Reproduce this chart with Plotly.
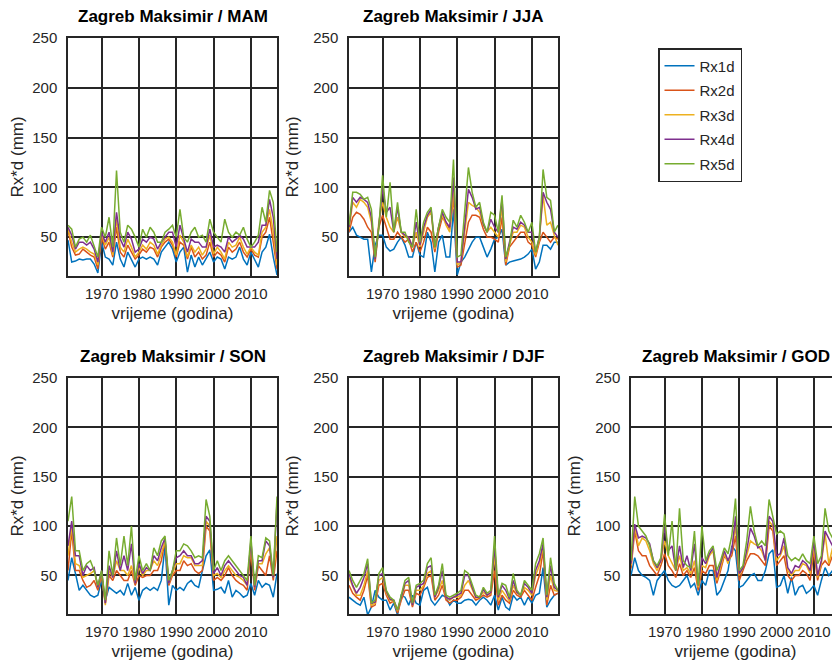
import plotly.graph_objects as go

# Godine 1961-2017
years = list(range(1961, 2018))
series_names = ["Rx1d", "Rx2d", "Rx3d", "Rx4d", "Rx5d"]
colors = ["#0072BD", "#D95319", "#EDB120", "#7E2F8E", "#77AC30"]

# MAM
mam_rx1d = [47, 25, 26, 28, 27, 28, 28, 23, 14, 45, 30, 28, 22, 45, 28, 20, 35, 28, 20, 28,
            30, 28, 30, 28, 22, 35, 40, 45, 38, 25, 35, 40, 15, 32, 20, 30, 22, 28, 35, 25,
            30, 28, 18, 30, 28, 30, 40, 28, 22, 35, 28, 20, 35, 40, 53, 30, 12]
mam_rx2d = [57, 40, 32, 33, 38, 35, 32, 30, 18, 50, 38, 45, 30, 60, 35, 30, 42, 35, 28, 32,
            38, 35, 40, 38, 30, 40, 45, 48, 42, 30, 45, 42, 28, 40, 30, 35, 28, 32, 45, 30,
            35, 32, 25, 40, 35, 38, 45, 35, 30, 38, 32, 30, 50, 55, 70, 45, 18]
mam_rx3d = [58, 45, 35, 38, 40, 38, 35, 33, 22, 53, 42, 50, 32, 68, 40, 35, 48, 40, 30, 35,
            42, 38, 45, 42, 33, 42, 48, 50, 45, 32, 52, 45, 30, 42, 35, 40, 32, 38, 52, 33,
            40, 35, 28, 45, 40, 42, 50, 40, 33, 40, 35, 32, 55, 60, 78, 55, 22]
mam_rx4d = [60, 52, 38, 45, 45, 42, 45, 38, 25, 55, 45, 55, 35, 75, 48, 40, 55, 48, 35, 38,
            48, 45, 50, 48, 38, 45, 50, 55, 55, 40, 62, 48, 35, 48, 45, 45, 40, 40, 58, 40,
            42, 40, 35, 50, 45, 48, 52, 48, 40, 40, 40, 45, 62, 62, 88, 70, 28]
mam_rx5d = [62, 58, 40, 48, 50, 45, 52, 42, 30, 60, 50, 70, 40, 117, 55, 45, 62, 58, 50, 40,
            58, 50, 60, 55, 45, 45, 55, 58, 62, 50, 78, 50, 45, 55, 60, 50, 52, 45, 68, 55,
            50, 45, 68, 55, 50, 55, 52, 60, 48, 40, 45, 52, 80, 65, 97, 85, 35]

# JJA
jja_rx1d = [55, 60, 52, 50, 48, 48, 15, 42, 52, 52, 40, 36, 38, 45, 50, 42, 30, 30, 45, 32,
            30, 55, 45, 15, 45, 52, 30, 30, 78, 12, 25, 30, 38, 45, 50, 50, 40, 30, 38, 48,
            50, 58, 22, 25, 26, 27, 28, 30, 33, 38, 18, 25, 42, 42, 38, 45, 45]
jja_rx2d = [55, 70, 75, 73, 68, 60, 55, 25, 60, 72, 60, 48, 48, 55, 50, 45, 48, 35, 45, 35,
            45, 60, 55, 35, 55, 70, 65, 58, 90, 20, 22, 45, 65, 72, 72, 70, 58, 50, 50, 48,
            45, 70, 22, 40, 45, 50, 55, 55, 45, 42, 30, 45, 55, 50, 45, 50, 48]
jja_rx3d = [58, 85, 80, 88, 85, 80, 65, 28, 65, 85, 70, 60, 55, 70, 55, 50, 50, 40, 55, 40,
            55, 70, 75, 38, 60, 72, 62, 55, 100, 22, 25, 55, 85, 82, 80, 75, 62, 55, 60, 55,
            50, 80, 25, 42, 55, 55, 62, 60, 50, 45, 32, 48, 92, 62, 65, 52, 42]
jja_rx4d = [60, 90, 85, 90, 88, 85, 70, 28, 62, 100, 75, 80, 55, 80, 55, 52, 50, 40, 65, 42,
            60, 72, 78, 40, 60, 75, 65, 60, 110, 25, 25, 60, 98, 90, 78, 80, 63, 55, 68, 60,
            55, 88, 28, 45, 60, 58, 65, 62, 55, 55, 35, 50, 95, 85, 78, 55, 50]
jja_rx5d = [62, 95, 95, 93, 88, 90, 78, 30, 60, 112, 70, 105, 55, 85, 55, 55, 45, 40, 78, 45,
            65, 75, 80, 40, 60, 78, 70, 65, 128, 30, 32, 75, 120, 95, 80, 85, 65, 55, 75, 72,
            55, 92, 30, 42, 67, 60, 72, 65, 55, 65, 35, 50, 118, 90, 87, 55, 62]

# SON
son_rx1d = [45, 68, 52, 35, 40, 35, 30, 28, 30, 45, 25, 38, 35, 32, 35, 30, 42, 30, 38, 25,
            35, 38, 35, 38, 35, 45, 80, 20, 40, 35, 38, 35, 42, 45, 40, 38, 55, 70, 76, 35,
            36, 38, 32, 45, 28, 35, 32, 28, 30, 42, 30, 45, 38, 42, 40, 28, 52]
son_rx2d = [55, 95, 55, 55, 45, 38, 40, 45, 35, 50, 22, 50, 45, 55, 50, 45, 45, 55, 40, 50,
            48, 50, 50, 55, 55, 65, 85, 40, 50, 55, 55, 65, 60, 62, 55, 52, 55, 100, 95, 45,
            48, 45, 50, 58, 50, 45, 42, 40, 35, 75, 35, 60, 55, 50, 70, 45, 75]
son_rx3d = [70, 100, 62, 60, 48, 50, 52, 55, 38, 52, 20, 55, 48, 65, 55, 55, 50, 60, 42, 58,
            50, 55, 55, 65, 60, 72, 85, 42, 52, 62, 62, 70, 68, 68, 60, 60, 60, 105, 100, 50,
            52, 48, 55, 60, 55, 50, 48, 45, 40, 80, 38, 62, 62, 72, 78, 48, 90]
son_rx4d = [80, 105, 70, 70, 50, 60, 55, 58, 38, 55, 22, 60, 48, 75, 55, 70, 55, 82, 42, 62,
            52, 58, 55, 70, 65, 78, 88, 42, 55, 68, 70, 75, 70, 70, 62, 62, 65, 110, 105, 52,
            58, 50, 60, 65, 60, 55, 50, 48, 40, 85, 38, 65, 65, 85, 80, 48, 125]
son_rx5d = [105, 130, 75, 75, 55, 62, 65, 55, 40, 55, 25, 75, 50, 88, 60, 90, 60, 100, 45, 70,
            55, 62, 55, 78, 70, 85, 90, 45, 55, 75, 75, 82, 80, 75, 68, 70, 68, 127, 110, 55,
            65, 55, 65, 70, 65, 60, 55, 50, 45, 90, 40, 70, 68, 88, 85, 50, 130]

# DJF
djf_rx1d = [28, 25, 22, 20, 28, 10, 18, 35, 28, 25, 25, 15, 22, 10, 30, 28, 20, 30, 22, 20,
            35, 38, 25, 20, 25, 30, 28, 20, 25, 22, 22, 25, 26, 25, 20, 25, 28, 25, 20, 30,
            15, 28, 18, 15, 30, 25, 28, 20, 28, 22, 30, 32, 58, 18, 25, 30, 32]
djf_rx2d = [40, 32, 28, 25, 35, 50, 18, 20, 40, 42, 30, 22, 24, 12, 25, 35, 35, 18, 32, 30,
            38, 48, 50, 25, 30, 40, 25, 22, 25, 25, 28, 35, 35, 30, 25, 27, 30, 28, 30, 55,
            20, 30, 25, 22, 35, 30, 28, 35, 30, 25, 38, 50, 75, 20, 40, 30, 32]
djf_rx3d = [48, 38, 30, 30, 40, 55, 20, 22, 45, 48, 32, 25, 24, 14, 28, 40, 40, 20, 35, 35,
            40, 52, 55, 28, 35, 45, 28, 25, 28, 28, 30, 40, 45, 35, 27, 28, 33, 30, 32, 70,
            25, 35, 30, 24, 40, 32, 30, 38, 35, 30, 50, 60, 80, 25, 50, 35, 34]
djf_rx4d = [52, 40, 32, 38, 48, 62, 22, 23, 50, 52, 34, 26, 25, 15, 28, 42, 45, 20, 38, 40,
            42, 58, 60, 28, 38, 55, 28, 26, 28, 30, 32, 50, 50, 38, 28, 28, 36, 30, 33, 80,
            28, 40, 35, 26, 45, 33, 30, 42, 38, 32, 55, 65, 82, 28, 60, 38, 35]
djf_rx5d = [55, 45, 38, 45, 52, 67, 22, 25, 52, 58, 35, 28, 25, 15, 30, 45, 48, 22, 40, 42,
            45, 62, 68, 30, 40, 62, 30, 28, 30, 32, 35, 55, 52, 40, 30, 28, 38, 32, 35, 90,
            30, 42, 40, 28, 52, 35, 30, 45, 40, 35, 62, 72, 88, 30, 68, 42, 35]

# GOD
god_rx1d = [50, 68, 55, 50, 48, 45, 30, 45, 50, 55, 45, 40, 38, 40, 45, 50, 38, 42, 30, 45,
            40, 55, 55, 30, 35, 45, 55, 80, 75, 38, 40, 45, 50, 52, 45, 45, 55, 72, 76, 38,
            40, 50, 32, 48, 30, 38, 40, 32, 35, 40, 30, 45, 58, 50, 55, 45, 50]
god_rx2d = [57, 95, 75, 70, 70, 60, 55, 50, 60, 72, 60, 55, 48, 62, 50, 55, 48, 58, 35, 55,
            52, 60, 60, 42, 55, 70, 65, 70, 90, 45, 55, 65, 72, 72, 70, 65, 60, 100, 95, 60,
            65, 70, 50, 45, 50, 50, 55, 52, 45, 75, 45, 60, 65, 60, 70, 60, 75]
god_rx3d = [60, 100, 80, 88, 85, 75, 62, 55, 65, 85, 70, 62, 55, 70, 55, 58, 52, 65, 38, 60,
            58, 70, 75, 45, 60, 72, 62, 75, 100, 50, 58, 70, 85, 82, 80, 75, 65, 105, 100, 65,
            70, 80, 55, 50, 55, 55, 62, 60, 52, 80, 48, 62, 92, 62, 78, 60, 90]
god_rx4d = [62, 102, 88, 90, 88, 82, 65, 58, 65, 100, 75, 80, 55, 80, 58, 70, 55, 82, 40, 68,
            62, 72, 78, 48, 62, 75, 65, 75, 110, 52, 58, 75, 98, 90, 78, 80, 65, 110, 105, 70,
            72, 88, 58, 52, 60, 58, 65, 62, 55, 85, 50, 65, 95, 88, 80, 65, 125]
god_rx5d = [65, 130, 100, 95, 90, 80, 65, 60, 68, 112, 70, 105, 55, 118, 65, 60, 58, 95, 40, 100,
            65, 75, 80, 55, 65, 78, 72, 90, 128, 55, 60, 85, 120, 95, 80, 85, 80, 127, 110, 92,
            95, 92, 70, 65, 68, 65, 72, 65, 62, 90, 62, 70, 118, 95, 88, 85, 130]

panels = [
    ("MAM", [mam_rx1d, mam_rx2d, mam_rx3d, mam_rx4d, mam_rx5d]),
    ("JJA", [jja_rx1d, jja_rx2d, jja_rx3d, jja_rx4d, jja_rx5d]),
    ("SON", [son_rx1d, son_rx2d, son_rx3d, son_rx4d, son_rx5d]),
    ("DJF", [djf_rx1d, djf_rx2d, djf_rx3d, djf_rx4d, djf_rx5d]),
    ("GOD", [god_rx1d, god_rx2d, god_rx3d, god_rx4d, god_rx5d]),
]

# page body adds an 8px margin, so the figure is 8px smaller than the window
W, H = 832, 660
# pixel boxes of the plot areas (left, right, top, bottom) in figure coords
boxes = [(60, 269, 30, 268), (341, 550, 30, 268),
         (60, 269, 370, 606), (341, 550, 370, 606), (623, 832, 370, 606)]

font = "Liberation Sans, Arial, sans-serif"
ink = "#262626"

fig = go.Figure()
layout = {}
annotations = []

for i, ((season, data), box) in enumerate(zip(panels, boxes)):
    n = i + 1
    xa = "x" if n == 1 else f"x{n}"
    ya = "y" if n == 1 else f"y{n}"
    for name, col, vals in zip(series_names, colors, data):
        fig.add_trace(go.Scatter(
            x=years, y=vals, name=name, mode="lines",
            line=dict(color=col, width=1.5),
            xaxis=xa, yaxis=ya,
            legendgroup=name, showlegend=(i == 0),
        ))
    l, r, t, b = box
    layout[f"xaxis{'' if n == 1 else n}"] = dict(
        domain=[l / W, r / W], anchor=ya, range=[1961, 2017],
        tickvals=[1970, 1980, 1990, 2000, 2010],
        showgrid=True, gridcolor=ink, gridwidth=1.5,
        showline=True, linecolor=ink, linewidth=1.5, mirror=True,
        zeroline=False, ticks="", ticklabelstandoff=3,
        tickfont=dict(size=15, color=ink, family=font),
        title=dict(text="vrijeme (godina)", font=dict(size=17, color=ink, family=font),
                   standoff=6),
        automargin=False,
    )
    layout[f"yaxis{'' if n == 1 else n}"] = dict(
        domain=[1 - b / H, 1 - t / H], anchor=xa, range=[11, 250],
        tickvals=[50, 100, 150, 200, 250],
        showgrid=True, gridcolor=ink, gridwidth=1.5,
        showline=True, linecolor=ink, linewidth=1.5, mirror=True,
        zeroline=False, ticks="", ticklabelstandoff=6,
        tickfont=dict(size=15, color=ink, family=font),
        title=dict(text="Rx*d (mm)", font=dict(size=17, color=ink, family=font),
                   standoff=10),
        automargin=False,
    )
    annotations.append(dict(
        text=f"<b>Zagreb Maksimir / {season}</b>",
        x=(l + r) / 2 / W, y=1 - (t - 10) / H, xref="paper", yref="paper",
        xanchor="center", yanchor="bottom", showarrow=False,
        font=dict(size=17, color="black", family=font),
    ))

fig.update_layout(
    **layout,
    annotations=annotations,
    width=W, height=H,
    margin=dict(l=0, r=0, t=0, b=0),
    paper_bgcolor="white", plot_bgcolor="white",
    showlegend=True,
    legend=dict(
        x=650 / W, y=1 - 40 / H, xanchor="left", yanchor="top",
        bordercolor=ink, borderwidth=1.5, bgcolor="white",
        font=dict(size=15, color=ink, family=font),
        tracegroupgap=2, itemwidth=30,
    ),
)

fig.write_html("out.html")
